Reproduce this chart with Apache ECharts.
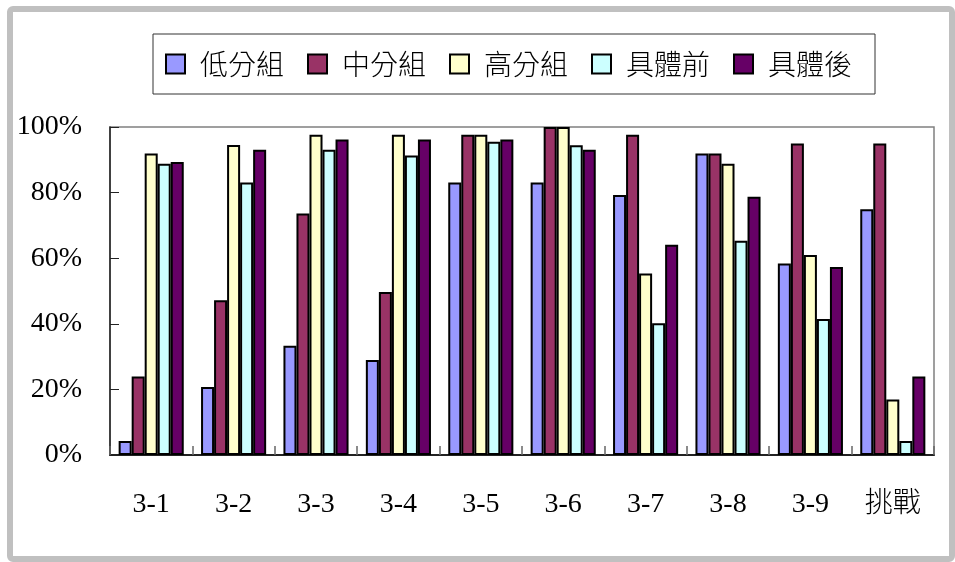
<!DOCTYPE html>
<html>
<head>
<meta charset="utf-8">
<script src="https://cdn.jsdelivr.net/npm/echarts@6/dist/echarts.min.js"></script>
<style>
  html, body { margin: 0; padding: 0; background: #fff; }
  #chart { width: 955px; height: 562px; }
</style>
</head>
<body>
<div id="chart"></div>
<script>
// Lesson units on the category axis
const categories = ['3-1', '3-2', '3-3', '3-4', '3-5', '3-6', '3-7', '3-8', '3-9', '挑戰'];

// Percent correct for each group
const lowGroup    = [4.3, 20.7, 33.3, 29.0, 83.1, 83.1, 79.3, 91.9, 58.4, 74.9];
const midGroup    = [23.9, 47.2, 73.6, 49.7, 97.6, 100, 97.6, 91.9, 95.0, 95.0];
const highGroup   = [91.9, 94.5, 97.6, 97.6, 97.6, 100, 55.3, 88.8, 61.0, 16.9];
const concreteBefore = [88.8, 83.1, 93.1, 91.3, 95.5, 94.4, 40.2, 65.3, 41.5, 4.3];
const concreteAfter  = [89.3, 93.1, 96.2, 96.2, 96.2, 93.1, 64.1, 78.7, 57.3, 23.9];

const seriesNames = ['低分組', '中分組', '高分組', '具體前', '具體後'];
const seriesColors = ['#9999FF', '#993366', '#FFFFCC', '#CCFFFF', '#660066'];
const seriesData = [lowGroup, midGroup, highGroup, concreteBefore, concreteAfter];

const chart = echarts.init(document.getElementById('chart'), null, { renderer: 'canvas' });

const serifFont = '"Liberation Serif", "Times New Roman", "Noto Sans CJK TC", serif';
const cjkFont = '"Noto Sans CJK TC", "Noto Sans CJK SC", sans-serif';

chart.setOption({
  backgroundColor: '#ffffff',
  animation: false,
  graphic: [{
    type: 'rect',
    z: -10,
    shape: { x: 10, y: 9, width: 942, height: 550, r: 3 },
    style: { fill: 'none', stroke: '#c0c0c0', lineWidth: 6 }
  }],
  legend: {
    left: 153,
    top: 34,
    orient: 'horizontal',
    padding: [16, 23, 16, 12],
    itemWidth: 19,
    itemHeight: 19,
    itemGap: 23,
    borderColor: '#333',
    borderWidth: 1,
    icon: 'rect',
    itemStyle: { borderColor: '#000', borderWidth: 2 },
    textStyle: {
      fontFamily: cjkFont,
      fontSize: 28,
      fontWeight: 300,
      lineHeight: 22,
      color: '#000',
      padding: [0, 0, 0, 10]
    },
    data: seriesNames
  },
  grid: {
    left: 110,
    right: 21,
    top: 127,
    bottom: 107,
    show: true,
    borderColor: '#808080',
    borderWidth: 1.5,
    backgroundColor: '#ffffff'
  },
  xAxis: {
    type: 'category',
    data: categories,
    axisLine: { lineStyle: { color: '#222', width: 2 } },
    axisTick: { show: true, inside: true, length: 9, alignWithLabel: false, lineStyle: { color: '#666', width: 1.5 } },
    axisLabel: {
      fontFamily: serifFont,
      fontSize: 28,
      fontWeight: 300,
      color: '#000',
      margin: 36
    },
    splitLine: { show: false }
  },
  yAxis: {
    type: 'value',
    min: 0,
    max: 100,
    interval: 20,
    axisLine: { show: true, lineStyle: { color: '#222', width: 1.5 } },
    axisTick: { show: true, inside: true, length: 9, lineStyle: { color: '#222', width: 1 } },
    axisLabel: {
      formatter: '{value}%',
      fontFamily: serifFont,
      fontSize: 28,
      color: '#000',
      margin: 28
    },
    splitLine: { show: false }
  },
  series: seriesNames.map((name, i) => ({
    name: name,
    type: 'bar',
    data: seriesData[i],
    barGap: '0%',
    barCategoryGap: '21%',
    itemStyle: {
      color: seriesColors[i],
      borderColor: '#000',
      borderWidth: 2
    }
  }))
});
</script>
</body>
</html>
